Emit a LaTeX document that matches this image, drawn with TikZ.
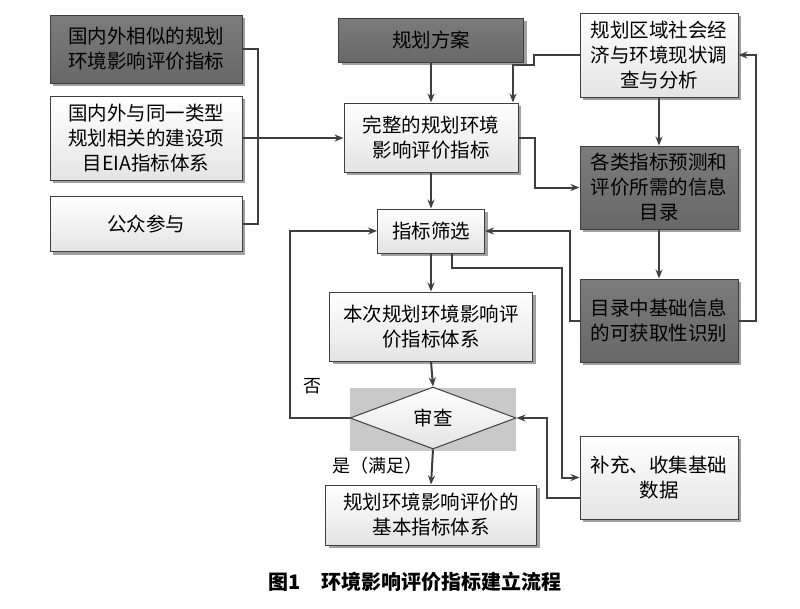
\documentclass[tikz,border=0pt]{standalone}
\usepackage{fontspec}
\setmainfont{Noto Sans CJK SC}
\usepackage{tikz}
\usetikzlibrary{shapes.geometric, arrows.meta, positioning, calc, shadows}
\definecolor{FlowLine}{HTML}{3F3F3F}
\definecolor{FlowDark}{HTML}{6D6D6D}
\definecolor{FlowLight}{HTML}{E4E4E4}
\definecolor{FlowShade}{HTML}{A0A0A0}
\definecolor{FlowBack}{HTML}{C9C9C9}
\tikzset{
    lightbox/.style={
        draw=FlowLine,
        line width=1pt,
        top color=white,
        bottom color=FlowLight,
        drop shadow={shadow xshift=3pt, shadow yshift=-3pt, fill=FlowShade, opacity=1},
        text=black,
        font=\fontsize{19.5}{25}\selectfont,
        align=center,
        inner sep=2pt
    },
    darkbox/.style={
        draw=FlowLine,
        line width=1pt,
        top color=FlowDark!90!white,
        bottom color=FlowDark!95!black,
        drop shadow={shadow xshift=3pt, shadow yshift=-3pt, fill=FlowShade, opacity=1},
        text=black,
        font=\fontsize{19.5}{25}\selectfont,
        align=center,
        inner sep=2pt
    },
    flow/.style={
        -{Stealth[length=9pt,width=7pt]},
        line width=2pt,
        FlowLine
    },
    plainline/.style={
        line width=2pt,
        FlowLine
    },
    tag/.style={
        font=\fontsize{18}{22}\selectfont,
        text=black
    }
}

\begin{document}
\begin{tikzpicture}[x=1pt, y=-1pt]
        \useasboundingbox (0,0) rectangle (800,608);

        % Left column
        \node[darkbox, minimum width=192pt, minimum height=68pt] (similar) at (146,49) {国内外相似的规划\\环境影响评价指标};
        \node[lightbox, minimum width=192pt, minimum height=84pt] (project) at (146,138) {国内外与同一类型\\规划相关的建设项\\目EIA指标体系};
        \node[lightbox, minimum width=192pt, minimum height=55pt] (public) at (146,224) {公众参与};

        % Middle column
        \node[darkbox, minimum width=185pt, minimum height=44pt] (plan) at (431,40) {规划方案};
        \node[lightbox, minimum width=174pt, minimum height=69pt] (full) at (431,137.5) {完整的规划环境\\影响评价指标};
        \node[lightbox, minimum width=107pt, minimum height=44pt] (screen) at (431,231) {指标筛选};
        \node[lightbox, minimum width=203pt, minimum height=69pt] (system) at (431,326.5) {本次规划环境影响评\\价指标体系};

        % Review
        \node[fill=FlowBack, minimum width=166pt, minimum height=63pt, inner sep=0pt] (checkbg) at (433,419.5) {};
        \node[diamond, draw=FlowLine, line width=1pt, top color=white, bottom color=FlowLight,
              minimum width=166pt, minimum height=62pt, inner sep=0pt,
              font=\fontsize{19.5}{25}\selectfont] (check) at (433,418) {审查};
        \node[lightbox, minimum width=211pt, minimum height=60pt] (basic) at (431,515) {规划环境影响评价的\\基本指标体系};

        % Right column
        \node[lightbox, minimum width=158pt, minimum height=84pt] (survey) at (659,55) {规划区域社会经\\济与环境现状调\\查与分析};
        \node[darkbox, minimum width=158pt, minimum height=83pt] (catalog) at (659,187.5) {各类指标预测和\\评价所需的信息\\目录};
        \node[darkbox, minimum width=158pt, minimum height=83pt] (avail) at (659,320.5) {目录中基础信息\\的可获取性识别};
        \node[lightbox, minimum width=158pt, minimum height=83pt] (supply) at (659,477.5) {补充、收集基础\\数据};

        % Left bracket
        \draw[plainline] (similar.east) -- ++(15,0) |- (public.east);
        \draw[flow] (project.east) -- (project.east -| full.west);

        % Main chain
        \draw[flow] (plan.south) -- (full.north);
        \draw[flow] (full.south) -- (screen.north);
        \draw[flow] (screen.south) -- (system.north);
        \draw[flow] (system.south) -- (check.north);
        \draw[flow] (check.south) -- (basic.north);
        \node[tag, anchor=east] (yes) at (426,466) {是（满足）};
        \draw[flow] (check.west) -- ++(-60,0) |- (screen.west);
        \node[tag] (no) at (312,386) {否};

        % Right side links
        \draw[flow] (survey.west) -- ++(-46,0) -- ++(0,10) -| ([xshift=82pt]full.north);
        \draw[flow] (full.east) -- ++(16,0) |- (catalog.west);
        \draw[flow] (survey.south) -- (catalog.north);
        \draw[flow] (catalog.south) -- (avail.north);
        \draw[flow] (avail.east) -- ++(17,0) |- (survey.east);
        \draw[flow] (avail.west) -- ++(-10,0) |- (screen.east);
        \draw[flow] ([xshift=21pt]screen.south) -- ++(0,14) -- ++(110,0) |- (supply.west);
        \draw[flow] ([yshift=-20.5pt]supply.west) -- ++(-33,0) |- (check.east);

        % Caption
        \node[font=\fontsize{20}{22}\selectfont\bfseries] (caption) at (415,582) {图1\quad 环境影响评价指标建立流程};
    \end{tikzpicture}
\end{document}
